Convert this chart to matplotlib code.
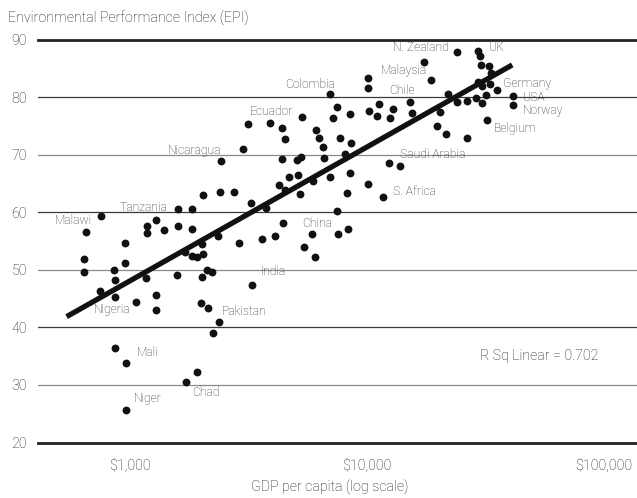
import numpy as np
import matplotlib.pyplot as plt

plt.rcParams['font.family'] = ['Roboto', 'DejaVu Sans']
plt.rcParams['font.weight'] = 'light'

# GDP per capita (US$) and EPI score for each country
gdp = [641, 641, 650, 752, 747, 864, 859, 864, 955, 955,
       1063, 1165, 1176, 1176, 1287, 1287, 1287, 1395, 1579, 1594,
       1594, 1712, 1832, 1832, 1832, 1923, 1993, 2013, 2013, 2027,
       2027, 2113, 2128, 2225, 2344, 2367, 2240, 2405, 2421, 2748,
       2884, 866, 965, 1918, 1723, 965, 2999, 3157, 3896, 4378,
       4495, 5303, 4378, 5051, 5268, 4700, 5100, 4266, 4508, 5217,
       3250, 3759, 4421, 3595, 4080, 3281, 5406, 6016, 5876, 5917,
       6075, 6272, 6522, 6567, 6962, 7495, 7209, 8479, 7692, 8561,
       8036, 6948, 8496, 8196, 7495, 7546, 8276, 10097, 11681, 12420,
       13740, 10127, 10127, 10226, 10988, 11270, 12912, 12503, 15187, 15440,
       17399, 18621, 23906, 29320, 29980, 30270, 32560, 33260, 29320, 30480,
       33040, 35260, 31870, 28840, 30480, 26350, 24050, 22030, 20380, 19700,
       21540, 26350, 31990, 41500, 41500]
epi = [51.9, 49.7, 56.6, 59.3, 46.4, 45.3, 49.9, 48.3, 54.7, 51.2,
       44.5, 48.6, 57.7, 56.4, 58.6, 45.7, 43.0, 57.0, 49.2, 60.6,
       57.6, 53.1, 60.6, 57.1, 52.4, 52.2, 44.3, 54.5, 48.8, 63.0,
       52.7, 49.9, 43.3, 49.7, 55.9, 41.0, 39.0, 63.5, 69.0, 63.6,
       54.6, 36.5, 33.9, 32.2, 30.6, 25.7, 71.0, 75.3, 75.5, 74.6,
       72.8, 76.6, 69.2, 69.1, 69.7, 66.1, 66.5, 64.7, 63.9, 63.2,
       61.7, 60.8, 58.1, 55.3, 55.9, 47.4, 53.9, 52.3, 56.2, 65.5,
       74.3, 73.0, 71.3, 69.4, 80.6, 78.4, 76.4, 77.1, 73.0, 72.1,
       70.2, 66.2, 66.9, 63.4, 60.3, 56.3, 57.1, 64.9, 62.6, 68.5,
       68.0, 83.4, 81.7, 77.7, 76.8, 78.9, 77.9, 76.4, 79.2, 77.2,
       86.1, 83.0, 87.8, 88.1, 87.1, 85.7, 85.5, 84.2, 82.6, 82.0,
       82.3, 81.3, 80.4, 79.8, 79.1, 79.3, 79.2, 80.6, 77.5, 75.1,
       73.7, 73.0, 76.0, 80.2, 78.6]

# labelled countries: index into the arrays above
label_names = ['N. Zealand', 'UK', 'Malaysia', 'Colombia', 'Chile', 'Germany',
               'USA', 'Norway', 'Belgium', 'Ecuador', 'Nicaragua', 'Saudi Arabia',
               'S. Africa', 'China', 'Tanzania', 'Malawi', 'India', 'Nigeria',
               'Pakistan', 'Mali', 'Chad', 'Niger']
label_idx = [102, 103, 101, 74, 98, 111, 123, 124, 122, 51, 46, 90,
             88, 68, 19, 3, 65, 5, 35, 42, 44, 45]
# text offset in pixels and horizontal alignment
label_off = [(-8, 4.5, 'right'), (11, 3, 'left'), (-4, 9.5, 'right'), (-20, 9, 'center'),
             (-8, 11, 'center'), (6, 6, 'left'), (9.5, -1, 'left'), (9.5, -5, 'left'),
             (7, -8.5, 'left'), (-9, 5, 'right'), (-22, -1, 'right'), (0, 12, 'left'),
             (10, 6, 'left'), (5, 10.5, 'center'), (-11, 1, 'right'), (-9, -4, 'right'),
             (8, 13, 'left'), (-2.5, -13, 'center'), (3, 10, 'left'), (10, 10, 'left'),
             (6, -11, 'left'), (7, 11, 'left')]

fit_range = [540, 41000]
xticks = [1000, 10000, 100000]
xtick_labels = ['$1,000', '$10,000', '$100,000']
yticks = [20, 30, 40, 50, 60, 70, 80, 90]

fig = plt.figure(figsize=(6.37, 4.98), dpi=100)
ax = fig.add_axes([0.0597, 0.1114, 0.9403, 0.8087])
ax.set_xscale('log')
ax.set_xlim(409, 137800)
ax.set_ylim(20, 90)

# horizontal rules
for v in yticks[1:-1]:
    ax.axhline(v, color='#3a3a3a' if v % 20 == 0 else '#8a8a8a', lw=0.9, zorder=1)
for s in ['left', 'right']:
    ax.spines[s].set_visible(False)
for s in ['top', 'bottom']:
    ax.spines[s].set_linewidth(2)
    ax.spines[s].set_color('#222222')

ax.scatter(gdp, epi, s=32, color='#111111', linewidths=0, zorder=3)

# least squares line in log GDP
slope, icpt = np.polyfit(np.log10(gdp), epi, 1)
lx = np.array(fit_range)
ax.plot(lx, slope * np.log10(lx) + icpt, color='#111111', lw=3.8,
        solid_capstyle='butt', zorder=4)

for name, i, (dx, dy, ha) in zip(label_names, label_idx, label_off):
    ax.annotate(name, (gdp[i], epi[i]), xytext=(dx, dy), textcoords='offset pixels',
                ha=ha, va='center', fontsize=8.7, color='#333333', zorder=5)

ax.text(0.936, 0.215, 'R Sq Linear = 0.702', transform=ax.transAxes, ha='right',
        va='center', fontsize=10.3, color='#1a1a1a')

ax.set_xticks(xticks)
ax.set_xticklabels(xtick_labels)
ax.minorticks_off()
ax.set_yticks(yticks)
ax.tick_params(length=0, labelsize=10.3, labelcolor='#1a1a1a')
ax.tick_params(axis='x', pad=12)
ax.tick_params(axis='y', pad=8)

fig.text(8 / 637, 1 - 18 / 498, 'Environmental Performance Index (EPI)',
         ha='left', va='center', fontsize=10.3, color='#1a1a1a')
fig.text(0.518, 1 - 487 / 498, 'GDP per capita (log scale)',
         ha='center', va='center', fontsize=10.3, color='#1a1a1a')

fig.savefig('out.png', dpi=100)
